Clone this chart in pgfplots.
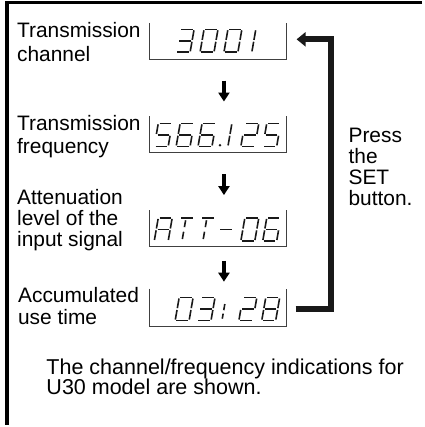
\documentclass[border=0pt]{standalone}
\usepackage{fontspec}
\setmainfont{Liberation Sans}
\usepackage{pgfplots}
\pgfplotsset{compat=1.18}
\usetikzlibrary{arrows.meta}
\tikzset{segst/.style={line width=1.6pt, black!90}}
\newcommand\lblfont{\fontsize{21}{23}\selectfont}
\newcommand\notefont{\fontsize{21.6}{23}\selectfont}
% seven-segment helpers (x0 = left bottom, y = baseline of digit)
\newcommand\Sg[6]{\draw[segst] (axis cs:{#1+(#3)*14+(#4)*4},{#2-(#4)*23}) -- (axis cs:{#1+(#5)*14+(#6)*4},{#2-(#6)*23});}
\newcommand\SegA[2]{\Sg{#1}{#2}{0.09}{1}{0.91}{1}}
\newcommand\SegB[2]{\Sg{#1}{#2}{1}{0.96}{1}{0.54}}
\newcommand\SegC[2]{\Sg{#1}{#2}{1}{0.46}{1}{0.04}}
\newcommand\SegD[2]{\Sg{#1}{#2}{0.09}{0}{0.91}{0}}
\newcommand\SegE[2]{\Sg{#1}{#2}{0}{0.46}{0}{0.04}}
\newcommand\SegF[2]{\Sg{#1}{#2}{0}{0.96}{0}{0.54}}
\newcommand\SegG[2]{\Sg{#1}{#2}{0.09}{0.5}{0.91}{0.5}}
\newcommand\DZero[2]{\SegA{#1}{#2}\SegB{#1}{#2}\SegC{#1}{#2}\SegD{#1}{#2}\SegE{#1}{#2}\SegF{#1}{#2}}
\newcommand\DOne[2]{\SegE{#1}{#2}\SegF{#1}{#2}}
\newcommand\DTwo[2]{\SegA{#1}{#2}\SegB{#1}{#2}\SegG{#1}{#2}\SegE{#1}{#2}\SegD{#1}{#2}}
\newcommand\DThree[2]{\SegA{#1}{#2}\SegB{#1}{#2}\SegG{#1}{#2}\SegC{#1}{#2}\SegD{#1}{#2}}
\newcommand\DFive[2]{\SegA{#1}{#2}\SegF{#1}{#2}\SegG{#1}{#2}\SegC{#1}{#2}\SegD{#1}{#2}}
\newcommand\DSix[2]{\SegA{#1}{#2}\SegF{#1}{#2}\SegG{#1}{#2}\SegE{#1}{#2}\SegD{#1}{#2}\SegC{#1}{#2}}
\newcommand\DEight[2]{\DZero{#1}{#2}\SegG{#1}{#2}}
\newcommand\DA[2]{\SegA{#1}{#2}\SegB{#1}{#2}\SegC{#1}{#2}\SegE{#1}{#2}\SegF{#1}{#2}\SegG{#1}{#2}}
\newcommand\DT[2]{\SegA{#1}{#2}\Sg{#1}{#2}{0.42}{0.9}{0.42}{0.6}\Sg{#1}{#2}{0.42}{0.4}{0.42}{0.08}}
\newcommand\DMinus[2]{\SegG{#1}{#2}}
\newcommand\DColon[2]{\Sg{#1}{#2}{0}{0.72}{0}{0.45}\Sg{#1}{#2}{0}{0.3}{0}{0.08}}
\newcommand\Lbl[3]{\node[anchor=base west,inner sep=0pt,font=\lblfont] at (axis cs:#1,#2) {#3};}
\newcommand\Note[3]{\node[anchor=base west,inner sep=0pt,font=\notefont] at (axis cs:#1,#2) {#3};}
\begin{document}
\begin{tikzpicture}
\begin{axis}[
  width=424pt, height=427pt, scale only axis,
  xmin=0, xmax=424, ymin=0, ymax=427, y dir=reverse,
  axis lines=none, clip=false,
]
\path (axis cs:0,0) rectangle (axis cs:424,427);
% frame
\addplot[black, line width=4pt, line join=miter] coordinates {(424,2.5) (7.5,2.5) (7.5,427)};
% display boxes (sides and bottom)
\addplot[black!75, line width=0.8pt] coordinates {(150,23) (150,60) (287.5,60) (287.5,23)};
\addplot[black!75, line width=0.8pt] coordinates {(150,117) (150,153) (287.5,153) (287.5,117)};
\addplot[black!75, line width=0.8pt] coordinates {(150,211) (150,248) (287.5,248) (287.5,211)};
\addplot[black!75, line width=0.8pt] coordinates {(150,290) (150,328) (287.5,328) (287.5,290)};
% down arrows
\addplot[black, line width=4pt, -{Triangle[width=11pt,length=9pt]}] coordinates {(225,81) (225,102)};
\addplot[black, line width=4pt, -{Triangle[width=11pt,length=9pt]}] coordinates {(225,175) (225,196)};
\addplot[black, line width=4pt, -{Triangle[width=11pt,length=9pt]}] coordinates {(225,262) (225,283)};
% feedback arrow
\addplot[black!90, line width=6pt, line join=miter, -{Triangle[width=14pt,length=9pt]}] coordinates {(297,310.5) (333,310.5) (333,39.5) (298,39.5)};
% digits box 1: 3001
\DThree{177}{52.5}\DZero{201}{52.5}\DZero{225}{52.5}\DOne{253}{52.5}
% box 2: 566.125
\DFive{155}{147}\DSix{177}{147}\DSix{199}{147}
\fill[black!90] (axis cs:221,146) circle[radius=1.4pt];
\DOne{229}{147}\DTwo{242}{147}\DFive{264}{147}
% box 3: ATT-06
\DA{155}{242}\DT{177}{242}\DT{198}{242}\DMinus{218}{242}\DZero{242}{242}\DSix{264}{242}
% box 4: 03:28
\DZero{176}{322}\DThree{198}{322}\DColon{223}{322}\DTwo{240}{322}\DEight{263}{322}
% labels
\Lbl{17}{38}{Transmission}
\Lbl{17}{61.5}{channel}
\Lbl{17}{131.5}{Transmission}
\Lbl{17}{154}{frequency}
\Lbl{17}{205}{Attenuation}
\Lbl{17}{226.5}{level of the}
\Lbl{17}{248}{input signal}
\Lbl{18}{303.5}{Accumulated}
\Lbl{18}{326.5}{use time}
\Lbl{350}{143.5}{Press}
\Lbl{350}{164.5}{the}
\Lbl{350}{185}{SET}
\Lbl{350}{206}{button.}
\Note{46.5}{376.5}{The channel/frequency indications for}
\Note{46.5}{396.5}{U30 model are shown.}
\end{axis}
\end{tikzpicture}
\end{document}
